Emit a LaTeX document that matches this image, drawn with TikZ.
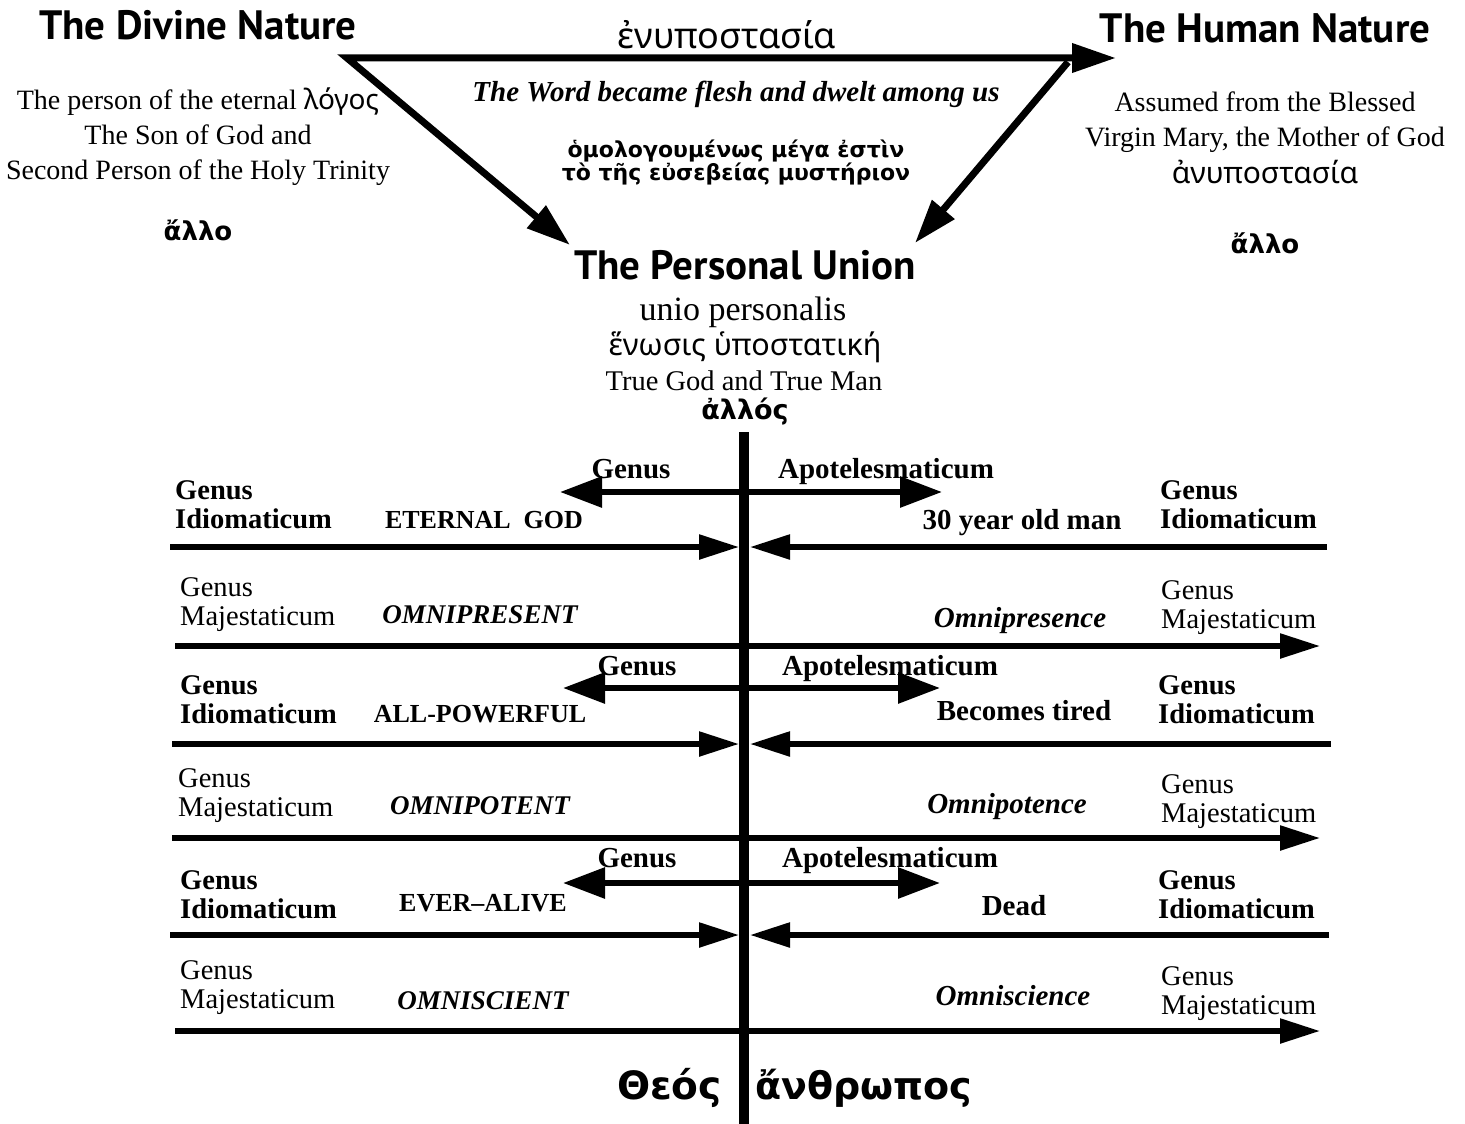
\documentclass[tikz,border=0pt]{standalone}
\usepackage{fontspec}
\setmainfont{Liberation Serif}
\newfontfamily\headfont{PT Sans}
\newfontfamily\grkfont{Noto Sans}
\newfontfamily\grkbold{DejaVu Sans}
\usetikzlibrary{arrows.meta,positioning}
\newcommand{\fsz}[2]{\fontsize{#1}{#2}\selectfont}

\begin{document}
\begin{tikzpicture}[x=1pt,y=-1pt,
	heading/.style={font=\headfont\bfseries\fsz{41}{44}, inner sep=0pt},
	blocktext/.style={font=\fsz{28}{35}, align=center, inner sep=0pt},
	greek/.style={font=\grkfont\fsz{30}{34}, inner sep=0pt},
	greekbold/.style={font=\grkbold\bfseries\fsz{26}{30}, inner sep=0pt},
	genlabel/.style={font=\fsz{28.5}{29}, align=left, anchor=west, inner sep=0pt},
	genbold/.style={font=\bfseries\fsz{28.5}{29}, align=left, anchor=west, inner sep=0pt},
	item/.style={font=\bfseries\fsz{29}{30}, inner sep=0pt},
	capsitem/.style={font=\bfseries\fsz{26}{30}, inner sep=0pt},
	itemit/.style={font=\bfseries\itshape\fsz{29}{30}, inner sep=0pt},
	capsit/.style={font=\bfseries\itshape\fsz{27}{30}, inner sep=0pt},
	triarrow/.style={line width=7pt, line join=miter, {Triangle[length=44pt,width=28pt]}-{Triangle[length=44pt,width=28pt]}},
	diagarrow/.style={line width=7pt, -{Triangle[length=44pt,width=28pt]}},
	dblarrow/.style={line width=6pt, {Triangle[length=42pt,width=30pt]}-{Triangle[length=42pt,width=30pt]}},
	rowarrow/.style={line width=5.5pt, -{Triangle[length=40pt,width=24pt]}},
	axis/.style={line width=10pt}]
	\useasboundingbox (0,0) rectangle (1465,1124);
	
	% the two natures
	\node[heading] (DN) at (198,25) {The Divine Nature};
	\node[heading] (HN) at (1265,28) {The Human Nature};
	\node[greek, font=\grkfont\fsz{36}{38}] (enhyp) at (727,35) {ἐνυποστασία};
	\node[blocktext] (DNbody) at (198,137) {The person of the eternal {\grkfont λόγος}\\The Son of God and\\Second Person of the Holy Trinity};
	\node[greekbold] (DNallo) at (198,230) {ἄλλο};
	\node[blocktext] (HNbody) at (1265,122) {Assumed from the Blessed\\Virgin Mary, the Mother of God};
	\node[greek] (anhyp) at (1265,172) {ἀνυποστασία};
	\node[greekbold] (HNallo) at (1265,243) {ἄλλο};
	\node[itemit, anchor=base] (word) at (736,102) {The Word became flesh and dwelt among us};
	\node[greekbold, font=\grkbold\bfseries\fsz{22}{23}, align=center] (myst) at (736,162) {ὁμολογουμένως μέγα ἐστὶν\\τὸ τῆς εὐσεβείας μυστήριον};
	
	% the personal union
	\node[heading] (PU) at (745,265) {The Personal Union};
	\node[blocktext, font=\fsz{34}{36}, anchor=base] (unio) at (743,320) {unio personalis};
	\node[greek, font=\grkfont\fsz{30.5}{34}] (henosis) at (745,347) {ἕνωσις ὑποστατική};
	\node[blocktext, font=\fsz{28.5}{32}] (truegod) at (744,381) {True God and True Man};
	\node[greekbold, font=\grkbold\bfseries\fsz{27}{30}] (allos) at (745,412) {ἀλλός};
	
	\coordinate (corner) at (347,58);
	\coordinate (HNtip) at (1116,58);
	\coordinate (PUtipL) at (570,245);
	\coordinate (HNfoot) at (1068,62);
	\coordinate (PUtipR) at (915,243);
	\draw[triarrow] (PUtipL) -- (corner) -- (HNtip);
	\draw[diagarrow] (HNfoot) -- (PUtipR);
	
	% axis
	\coordinate (axtop) at (744,432);
	\coordinate (axbot) at (744,1124);
	\draw[axis] (axtop) -- (axbot);
	
	% row 1
	\node[genbold] (idAl) at (175,505) {Genus\\Idiomaticum};
	\node[capsitem] (idAtxt) at (484,520) {ETERNAL~~GOD};
	\node[item, anchor=base] (idAgen) at (631,478) {Genus};
	\node[item, anchor=base] (idAapo) at (886,478) {Apotelesmaticum};
	\node[item, anchor=base] (idAman) at (1022,529) {30 year old man};
	\node[genbold] (idAr) at (1160,505) {Genus\\Idiomaticum};
	\coordinate (idAdl) at (560,492);
	\coordinate (idAdr) at (942,492);
	\draw[dblarrow] (idAdl) -- (idAdr);
	\coordinate (idAw) at (170,547);
	\coordinate (idAcw) at (739,547);
	\coordinate (idAe) at (1327,547);
	\coordinate (idAce) at (750,547);
	\draw[rowarrow] (idAw) -- (idAcw);
	\draw[rowarrow] (idAe) -- (idAce);
	
	% row 2
	\node[genlabel] (mjAl) at (180,605) {Genus\\Majestaticum};
	\node[capsit] (mjAtxt) at (480,615) {OMNIPRESENT};
	\node[itemit, anchor=base] (mjAhum) at (1020,627) {Omnipresence};
	\node[genlabel] (mjAr) at (1161,608) {Genus\\Majestaticum};
	\coordinate (mjAw) at (175,646);
	\coordinate (mjAe) at (1320,646);
	\draw[rowarrow] (mjAw) -- (mjAe);
	
	% row 3
	\node[genbold] (idBl) at (180,700) {Genus\\Idiomaticum};
	\node[capsitem] (idBtxt) at (480,714) {ALL-POWERFUL};
	\node[item, anchor=base] (idBgen) at (637,675) {Genus};
	\node[item, anchor=base] (idBapo) at (890,675) {Apotelesmaticum};
	\node[item] (idBman) at (1024,711) {Becomes tired};
	\node[genbold] (idBr) at (1158,700) {Genus\\Idiomaticum};
	\coordinate (idBdl) at (563,688);
	\coordinate (idBdr) at (940,688);
	\draw[dblarrow] (idBdl) -- (idBdr);
	\coordinate (idBw) at (172,744);
	\coordinate (idBcw) at (739,744);
	\coordinate (idBe) at (1331,744);
	\coordinate (idBce) at (750,744);
	\draw[rowarrow] (idBw) -- (idBcw);
	\draw[rowarrow] (idBe) -- (idBce);
	
	% row 4
	\node[genlabel] (mjBl) at (178,796) {Genus\\Majestaticum};
	\node[capsit] (mjBtxt) at (480,806) {OMNIPOTENT};
	\node[itemit, anchor=base] (mjBhum) at (1007,813) {Omnipotence};
	\node[genlabel] (mjBr) at (1161,802) {Genus\\Majestaticum};
	\coordinate (mjBw) at (172,838);
	\coordinate (mjBe) at (1320,838);
	\draw[rowarrow] (mjBw) -- (mjBe);
	
	% row 5
	\node[genbold] (idCl) at (180,895) {Genus\\Idiomaticum};
	\node[capsitem] (idCtxt) at (483,903) {EVER–ALIVE};
	\node[item, anchor=base] (idCgen) at (637,867) {Genus};
	\node[item, anchor=base] (idCapo) at (890,867) {Apotelesmaticum};
	\node[item] (idCman) at (1014,906) {Dead};
	\node[genbold] (idCr) at (1158,895) {Genus\\Idiomaticum};
	\coordinate (idCdl) at (563,883);
	\coordinate (idCdr) at (940,883);
	\draw[dblarrow] (idCdl) -- (idCdr);
	\coordinate (idCw) at (170,935);
	\coordinate (idCcw) at (739,935);
	\coordinate (idCe) at (1329,935);
	\coordinate (idCce) at (750,935);
	\draw[rowarrow] (idCw) -- (idCcw);
	\draw[rowarrow] (idCe) -- (idCce);
	
	% row 6
	\node[genlabel] (mjCl) at (180,988) {Genus\\Majestaticum};
	\node[capsit] (mjCtxt) at (483,1001) {OMNISCIENT};
	\node[itemit] (mjChum) at (1013,996) {Omniscience};
	\node[genlabel] (mjCr) at (1161,994) {Genus\\Majestaticum};
	\coordinate (mjCw) at (175,1031);
	\coordinate (mjCe) at (1320,1031);
	\draw[rowarrow] (mjCw) -- (mjCe);
	
	% God and man
	\node[greekbold, font=\grkbold\bfseries\fsz{39}{44}, anchor=base east] (theos) at (722,1099) {Θεός};
	\node[greekbold, font=\grkbold\bfseries\fsz{38}{44}, anchor=base west] (anthr) at (755,1099) {ἄνθρωπος};
\end{tikzpicture}
\end{document}
